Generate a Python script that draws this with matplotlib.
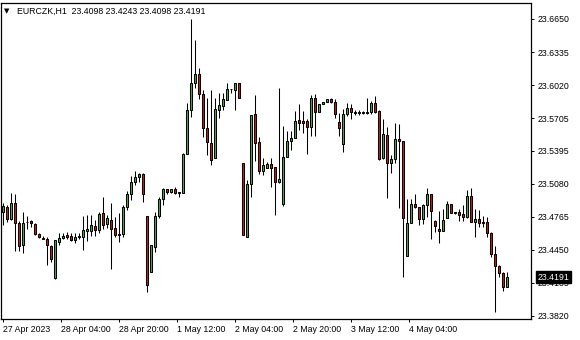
import matplotlib
matplotlib.use("Agg")
import matplotlib.pyplot as plt
import matplotlib.transforms as mtransforms
import numpy as np

# ── Data (EURCZK H1) ──────────────────────────────────────────────────────────
opens = [
    23.4811, 23.4861, 23.4741, 23.4894, 23.4703, 23.4496, 23.4711, 23.4725, 23.4696, 23.4601,
    23.4565, 23.4550, 23.4487, 23.4179, 23.4528, 23.4566, 23.4591, 23.4582, 23.4544, 23.4570,
    23.4575, 23.4632, 23.4632, 23.4677, 23.4636, 23.4801, 23.4692, 23.4734, 23.4655, 23.4596,
    23.4601, 23.4855, 23.4982, 23.5094, 23.5141, 23.5173, 23.4773, 23.4242, 23.4480, 23.4773,
    23.4932, 23.5027, 23.5004, 23.5027, 23.5001, 23.4995, 23.5363, 23.5783, 23.6037, 23.6126,
    23.5935, 23.5608, 23.5471, 23.5322, 23.5783, 23.5821, 23.5878, 23.5978, 23.5973, 23.6043,
    23.5275, 23.4570, 23.5077, 23.5745, 23.5481, 23.5204, 23.5227, 23.5268, 23.5242, 23.5099,
    23.4887, 23.5338, 23.5487, 23.5519, 23.5687, 23.5678, 23.5678, 23.5618, 23.5894, 23.5767,
    23.5840, 23.5862, 23.5885, 23.5862, 23.5665, 23.5456, 23.5742, 23.5799, 23.5764, 23.5754,
    23.5757, 23.5754, 23.5759, 23.5847, 23.5773, 23.5322, 23.5544, 23.5275, 23.5316, 23.5503,
    23.5487, 23.4394, 23.4703, 23.4884, 23.4861, 23.4741, 23.4877, 23.4982, 23.4728, 23.4649,
    23.4632, 23.4751, 23.4887, 23.4808, 23.4808, 23.4792, 23.4766, 23.4963, 23.4718, 23.4741,
    23.4712, 23.4712, 23.4608, 23.4410, 23.4296, 23.4232, 23.4098,
]
highs = [
    23.4896, 23.4877, 23.4989, 23.4982, 23.4725, 23.4806, 23.4773, 23.4734, 23.4703, 23.4613,
    23.4582, 23.4577, 23.4496, 23.4544, 23.4608, 23.4608, 23.4623, 23.4606, 23.4608, 23.4611,
    23.4768, 23.4782, 23.4782, 23.4734, 23.4815, 23.4949, 23.4782, 23.4894, 23.4763, 23.4801,
    23.4873, 23.5014, 23.5154, 23.5204, 23.5178, 23.5178, 23.4773, 23.4496, 23.4814, 23.4951,
    23.5042, 23.5030, 23.5030, 23.5044, 23.5004, 23.5370, 23.5847, 23.6647, 23.6450, 23.6180,
    23.5973, 23.5894, 23.5973, 23.5894, 23.5942, 23.5942, 23.6037, 23.5980, 23.6043, 23.6043,
    23.5275, 23.5116, 23.5735, 23.5926, 23.5523, 23.5322, 23.5287, 23.5322, 23.5242, 23.5990,
    23.5630, 23.5585, 23.5585, 23.5776, 23.5840, 23.5776, 23.5694, 23.5926, 23.5935, 23.5840,
    23.5862, 23.5885, 23.5894, 23.5885, 23.5757, 23.5789, 23.5852, 23.5840, 23.5783, 23.5778,
    23.5773, 23.5894, 23.5871, 23.5916, 23.5783, 23.5694, 23.5618, 23.5354, 23.5662, 23.5649,
    23.5487, 23.4935, 23.4935, 23.4982, 23.4861, 23.4887, 23.5042, 23.4982, 23.4734, 23.4823,
    23.4839, 23.4918, 23.4887, 23.4811, 23.4839, 23.4877, 23.5020, 23.5037, 23.4836, 23.4830,
    23.4773, 23.4766, 23.4623, 23.4487, 23.4306, 23.4242, 23.4243,
]
lows = [
    23.4687, 23.4718, 23.4734, 23.4442, 23.4442, 23.4417, 23.4649, 23.4671, 23.4591, 23.4566,
    23.4550, 23.4306, 23.4334, 23.4172, 23.4496, 23.4550, 23.4553, 23.4534, 23.4512, 23.4558,
    23.4444, 23.4537, 23.4582, 23.4582, 23.4611, 23.4649, 23.4655, 23.4263, 23.4570, 23.4528,
    23.4572, 23.4830, 23.4925, 23.5071, 23.5099, 23.4909, 23.4051, 23.4242, 23.4432, 23.4751,
    23.4877, 23.4982, 23.4992, 23.4982, 23.4956, 23.4992, 23.5363, 23.5713, 23.5990, 23.5885,
    23.5528, 23.5354, 23.5259, 23.5322, 23.5704, 23.5783, 23.5878, 23.5942, 23.5783, 23.5894,
    23.4591, 23.4570, 23.4951, 23.5300, 23.5173, 23.5163, 23.5227, 23.5046, 23.4782, 23.5090,
    23.4868, 23.5332, 23.5401, 23.5513, 23.5592, 23.5566, 23.5363, 23.5535, 23.5535, 23.5767,
    23.5840, 23.5862, 23.5852, 23.5704, 23.5535, 23.5385, 23.5726, 23.5694, 23.5735, 23.5735,
    23.5745, 23.5742, 23.5745, 23.5751, 23.5306, 23.5316, 23.4947, 23.5179, 23.5275, 23.4846,
    23.4194, 23.4394, 23.4701, 23.4846, 23.4687, 23.4696, 23.4760, 23.4553, 23.4623, 23.4518,
    23.4632, 23.4751, 23.4798, 23.4796, 23.4728, 23.4728, 23.4751, 23.4718, 23.4570, 23.4671,
    23.4671, 23.4575, 23.4385, 23.3860, 23.4194, 23.4061, 23.4098,
]
closes = [
    23.4868, 23.4741, 23.4894, 23.4703, 23.4487, 23.4709, 23.4720, 23.4703, 23.4601, 23.4572,
    23.4553, 23.4496, 23.4367, 23.4539, 23.4560, 23.4585, 23.4568, 23.4544, 23.4570, 23.4582,
    23.4639, 23.4649, 23.4684, 23.4639, 23.4789, 23.4687, 23.4749, 23.4653, 23.4596, 23.4601,
    23.4855, 23.4982, 23.5094, 23.5141, 23.5173, 23.4982, 23.4115, 23.4496, 23.4773, 23.4932,
    23.5027, 23.5004, 23.5027, 23.4989, 23.4995, 23.5363, 23.5783, 23.6037, 23.6126, 23.5935,
    23.5608, 23.5481, 23.5306, 23.5789, 23.5830, 23.5885, 23.5980, 23.5980, 23.6043, 23.5894,
    23.4591, 23.5077, 23.5735, 23.5465, 23.5204, 23.5259, 23.5268, 23.5227, 23.5099, 23.5125,
    23.5338, 23.5487, 23.5513, 23.5678, 23.5662, 23.5662, 23.5624, 23.5894, 23.5767, 23.5840,
    23.5862, 23.5885, 23.5862, 23.5742, 23.5608, 23.5742, 23.5799, 23.5761, 23.5754, 23.5759,
    23.5759, 23.5759, 23.5847, 23.5768, 23.5316, 23.5554, 23.5275, 23.5316, 23.5503, 23.5490,
    23.4751, 23.4703, 23.4887, 23.4861, 23.4747, 23.4877, 23.4982, 23.4823, 23.4680, 23.4632,
    23.4734, 23.4887, 23.4804, 23.4798, 23.4782, 23.4766, 23.4963, 23.4718, 23.4741, 23.4709,
    23.4709, 23.4608, 23.4410, 23.4296, 23.4232, 23.4093, 23.4191,
]

date_labels = ["27 Apr 2023", "28 Apr 04:00", "28 Apr 20:00", "1 May 12:00",
               "2 May 04:00", "2 May 20:00", "3 May 12:00", "4 May 04:00"]
price_ticks = [23.6650, 23.6335, 23.6020, 23.5705, 23.5395,
               23.5080, 23.4765, 23.4450, 23.4135, 23.3820]
symbol = "EURCZK,H1"

# ── Style ─────────────────────────────────────────────────────────────────────
UP    = "#3cb43c"
DOWN  = "#d41414"
FONT  = ["Liberation Sans", "DejaVu Sans"]
FS    = 6.3
plt.rcParams["font.family"] = FONT

o = np.array(opens); h = np.array(highs); l = np.array(lows); c = np.array(closes)
x = np.arange(len(o))
colors = [UP if cc >= oo else DOWN for oo, cc in zip(o, c)]

fig = plt.figure(figsize=(5.8, 3.4), dpi=100, facecolor="white")
ax = fig.add_axes([1 / 580, 21 / 340, 530 / 580, 316 / 340])

# ── Candles ───────────────────────────────────────────────────────────────────
ax.vlines(x, l, h, color="black", linewidth=0.75, zorder=1)
ax.bar(x, np.abs(c - o), bottom=np.minimum(o, c), width=0.55,
       color=colors, edgecolor="black", linewidth=0.75, zorder=2)

ax.set_xlim(-0.5, 132)
ax.set_ylim(23.3791, 23.6802)

# ── Axes ──────────────────────────────────────────────────────────────────────
for s in ax.spines.values():
    s.set_color("black")
    s.set_linewidth(0.9)

ax.yaxis.tick_right()
ax.set_yticks(price_ticks)
ax.set_yticklabels([f"{p:.4f}" for p in price_ticks])
ax.tick_params(axis="y", direction="out", length=2.5, width=0.7, pad=2,
               labelsize=FS, colors="black")

ax.set_xticks([14.5 * k for k in range(len(date_labels))])
ax.set_xticklabels(date_labels, ha="left")
ax.tick_params(axis="x", direction="out", length=2.5, width=0.7, pad=1.5,
               labelsize=FS, colors="black")
for t in ax.get_xticklabels():
    t.set_horizontalalignment("left")
    t.set_x(t.get_position()[0])

# last price marker on the price scale
trans = mtransforms.blended_transform_factory(ax.transAxes, ax.transData)
ax.annotate(f"{closes[-1]:.4f}", xy=(1.0, closes[-1]), xycoords=trans,
            xytext=(5, 0), textcoords="offset points", ha="left", va="center",
            fontsize=FS, color="white", annotation_clip=False,
            bbox=dict(boxstyle="square,pad=0.18", fc="black", ec="black"))

# header line
fig.text(4 / 580, 1 - 11 / 340, "▼", fontsize=5, va="center", ha="left",
         family=["DejaVu Sans"])
fig.text(17 / 580, 1 - 11 / 340,
         f"{symbol}  {opens[-1]:.4f} {highs[-1]:.4f} {lows[-1]:.4f} {closes[-1]:.4f}",
         fontsize=FS, va="center", ha="left")

fig.savefig("out.png", dpi=100, facecolor="white")
